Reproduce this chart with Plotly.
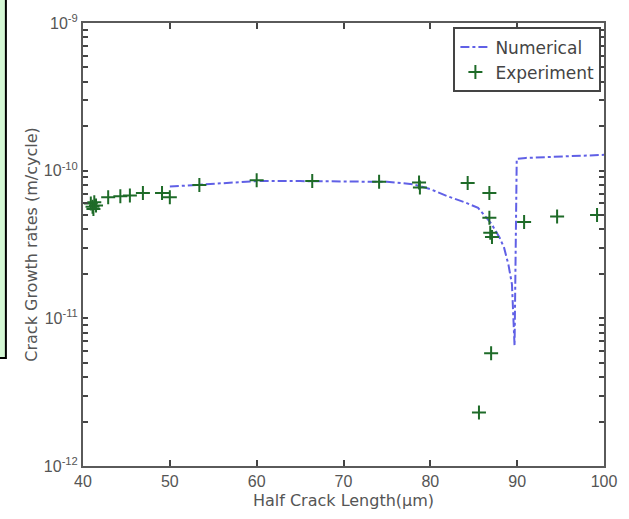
import plotly.graph_objects as go

# Numerical prediction of crack growth rate vs half crack length
num_x = [50, 53, 56, 60, 65, 70, 75, 78, 80, 82, 84, 85.5, 87, 88, 88.5, 89, 89.4, 89.7, 89.95, 91, 95, 100]
num_y = [7.8e-11, 8.0e-11, 8.2e-11, 8.5e-11, 8.5e-11, 8.45e-11, 8.4e-11, 8.1e-11, 7.5e-11,
         6.7e-11, 6.1e-11, 5.6e-11, 4.4e-11, 3.5e-11, 3.0e-11, 2.3e-11, 1.7e-11, 6.5e-12,
         1.2e-10, 1.22e-10, 1.25e-10, 1.28e-10]

# Experimental measurements
exp_x = [40.9, 41.1, 41.3, 41.5, 41.2, 42.9, 44.3, 45.4, 46.9, 49.1, 50.0,
         53.4, 60.0, 66.4, 74.1, 78.7, 78.8, 84.3, 86.8, 86.8, 87.1, 86.9,
         87.0, 85.6, 90.8, 94.6, 99.2]
exp_y = [6.0e-11, 5.7e-11, 6.1e-11, 5.8e-11, 5.5e-11, 6.6e-11, 6.7e-11, 6.8e-11, 7.05e-11, 7.05e-11, 6.6e-11,
         8.0e-11, 8.6e-11, 8.5e-11, 8.4e-11, 8.3e-11, 7.7e-11, 8.25e-11, 7.05e-11, 4.8e-11, 3.55e-11, 3.8e-11,
         5.8e-12, 2.3e-12, 4.5e-11, 4.9e-11, 5.0e-11]

x_ticks = [40, 50, 60, 70, 80, 90, 100]
y_exponents = [-12, -11, -10, -9]

# decade ticks are labelled, the 2..9 ticks in between are left blank
y_ticks, y_ticktext = [], []
for e in y_exponents:
    y_ticks.append(10.0 ** e)
    y_ticktext.append(f"10<sup>{e}</sup>")
    if e < y_exponents[-1]:
        for m in range(2, 10):
            y_ticks.append(m * 10.0 ** e)
            y_ticktext.append(" ")

tick_font = dict(family="Liberation Sans, Arial, sans-serif", size=16, color="#555555")
title_font = dict(family="DejaVu Sans, Arial, sans-serif", size=16, color="#555555")

fig = go.Figure()
fig.add_trace(go.Scatter(
    x=num_x, y=num_y, mode="lines", name="Numerical",
    line=dict(color="#6060e6", width=2, dash="dashdot"),
))
fig.add_trace(go.Scatter(
    x=exp_x, y=exp_y, mode="markers", name="Experiment",
    marker=dict(symbol="cross-thin", size=10, line=dict(color="#1e6b28", width=2)),
))

axis_common = dict(
    showline=True, linecolor="#5a5a5a", linewidth=2, mirror="allticks",
    ticks="inside", tickcolor="#444444", tickwidth=1.5, showgrid=False, zeroline=False,
    tickfont=tick_font,
)

fig.update_xaxes(range=[40, 100], tickmode="array", tickvals=x_ticks, ticklen=6,
                 title=dict(text="Half Crack Length(\u03bcm)", font=title_font, standoff=6),
                 **axis_common)
fig.update_yaxes(type="log", range=[-12, -9], tickmode="array",
                 tickvals=y_ticks, ticktext=y_ticktext, ticklen=5,
                 title=dict(text="Crack Growth rates (m/cycle)", font=title_font, standoff=2),
                 **axis_common)

fig.update_layout(
    width=629, height=519,
    margin=dict(l=83, r=25, t=23, b=53),
    paper_bgcolor="white", plot_bgcolor="white",
    font=tick_font,
    showlegend=True,
    legend=dict(x=0.995, y=0.99, xanchor="right", yanchor="top",
                bordercolor="#444444", borderwidth=2, bgcolor="white",
                font=dict(family="DejaVu Sans, Arial, sans-serif", size=17, color="#444444"),
                tracegroupgap=0, itemwidth=30),
    shapes=[dict(type="rect", xref="paper", yref="paper",
                 x0=-0.17, x1=-0.148, y0=0.244, y1=1.06,
                 fillcolor="#d4f7d4", line=dict(color="black", width=2), layer="above")],
)

fig.write_html("out.html")
